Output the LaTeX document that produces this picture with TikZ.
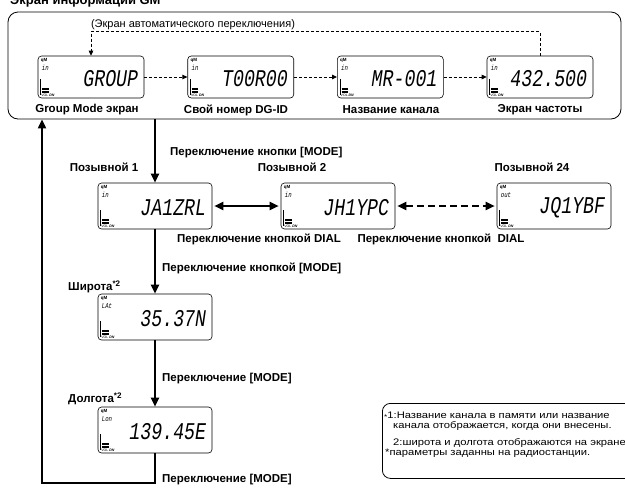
\documentclass[tikz,border=0pt]{standalone}
\usepackage{fontspec}
\setmainfont{Liberation Sans}
\newfontfamily\lcdfont{Liberation Mono}[FakeStretch=0.76]
\newfontfamily\widefont{Liberation Sans}[FakeStretch=1.18]
\usetikzlibrary{calc,arrows.meta}
\newcommand\lcdinner[3]{%
  \node[anchor=west, inner sep=0pt, font=\bfseries\fontsize{4.5}{4.5}\selectfont] (#1-ic) at ($(#1.north west)+(3,5)$) {qM};
  \node[anchor=west, inner sep=0pt, font=\lcdfont\itshape\fontsize{7.5}{7.5}\selectfont] (#1-md) at ($(#1.north west)+(4,12.5)$) {#2};
  \draw[line width=0.5pt] ($(#1.south west)+(3,-19)$) -- ($(#1.south west)+(3,-3)$);
  \draw[line width=1.5pt] ($(#1.south west)+(4.5,-9.5)$) -- ++(6.5,0);
  \draw[line width=1.5pt] ($(#1.south west)+(4.5,-6.5)$) -- ++(6.5,0);
  \node[anchor=south west, inner sep=0pt, font=\fontsize{3.5}{3.5}\selectfont] (#1-vol) at ($(#1.south west)+(3.5,-1.2)$) {VOL \textbf{\textit{DN}}};
  \node[anchor=east, inner sep=0pt, font=\lcdfont\itshape\fontsize{24}{24}\selectfont] (#1-txt) at ($(#1.east)+(-6,1.5)$) {#3};
}
\begin{document}
\begin{tikzpicture}[x=1pt,y=-1pt,
  lcd/.style={draw, line width=0.6pt, rounded corners=3.5pt, minimum width=106pt, minimum height=42pt, inner sep=0pt},
  lcdl/.style={lcd, minimum width=114pt, minimum height=46pt},
  lab/.style={font=\bfseries\fontsize{11.5}{13}\selectfont, inner sep=0pt},
  small/.style={font=\fontsize{11}{12}\selectfont, inner sep=0pt},
  notef/.style={font=\widefont\fontsize{9.5}{11}\selectfont, inner sep=0pt},
  dashline/.style={line width=0.9pt, dash pattern=on 3pt off 2pt},
  thintip/.style={-{Triangle[length=5pt,width=4.5pt]}},
  heavy/.style={line width=2pt},
  bigtip/.style={-{Triangle[length=9pt,width=8pt]}},
  bothtip/.style={{Triangle[length=9pt,width=8pt]}-{Triangle[length=9pt,width=8pt]}},
]
\useasboundingbox (0,0) rectangle (625,488);

\node[anchor=base west, inner sep=0pt, font=\bfseries\fontsize{13}{13}\selectfont] (title) at (10,4) {Экран информации GM};

\node[draw, line width=0.8pt, rounded corners=10pt, minimum width=613pt, minimum height=107pt, inner sep=0pt] (outer) at (314.5,65.5) {};

% top row screens
\node[lcd] (s1) at (91,77) {};
\node[lcd] (s2) at (240.7,77) {};
\node[lcd] (s3) at (390.3,77) {};
\node[lcd] (s4) at (540,77) {};
\lcdinner{s1}{in}{GROUP}
\lcdinner{s2}{in}{T00R00}
\lcdinner{s3}{in}{MR-001}
\lcdinner{s4}{in}{432.500}

\node[lab] (l1) at (87,110) {Group Mode экран};
\node[lab] (l2) at (236,110) {Свой номер DG-ID};
\node[lab] (l3) at (391,110) {Название канала};
\node[lab] (l4) at (540,110) {Экран частоты};

\draw[dashline, thintip] (s1.east) -- (s2.west);
\draw[dashline, thintip] (s2.east) -- (s3.west);
\draw[dashline, thintip] (s3.east) -- (s4.west);
\draw[dashline, thintip] (s4.north) -- ++(0,-24) -| (s1.north);
\node[small] (auto) at (193,25) {(Экран автоматического переключения)};

% middle row
\node[lcdl] (j1) at (155,206) {};
\node[lcdl] (j2) at (338,206) {};
\node[lcdl] (j3) at (554,206) {};
\lcdinner{j1}{in}{JA1ZRL}
\lcdinner{j2}{in}{JH1YPC}
\lcdinner{j3}{out}{JQ1YBF}

\node[lab] (p1) at (104,167) {Позывной 1};
\node[lab] (p2) at (292,167) {Позывной 2};
\node[lab] (p3) at (532,167) {Позывной 24};

\draw[heavy, bigtip] (outer.south -| j1) -- (j1.north);
\node[lab, anchor=west] (m1) at (170,153) {Переключение кнопки [MODE]};

\draw[heavy, bothtip] ([xshift=2pt]j1.east) -- ([xshift=-2pt]j2.west);
\draw[heavy, bothtip, dash pattern=on 7pt off 4pt] ([xshift=2pt]j2.east) -- ([xshift=-2pt]j3.west);
\node[lab] (d1) at (259,239) {Переключение кнопкой DIAL};
\node[lab] (d2) at (441,239) {Переключение кнопкой\ \ DIAL};

% lat / lon
\node[lcdl] (la) at (155,317) {};
\node[lcdl] (lo) at (155,430) {};
\lcdinner{la}{LAt}{35.37N}
\lcdinner{lo}{Lon}{139.45E}

\node[lab, anchor=west] (w1) at (68,287) {Широта\textsuperscript{*2}};
\node[lab, anchor=west] (w2) at (68,399) {Долгота\textsuperscript{*2}};

\draw[heavy, bigtip] (j1.south) -- (la.north);
\node[lab, anchor=west] (m2) at (162,268) {Переключение кнопкой [MODE]};
\draw[heavy, bigtip] (la.south) -- (lo.north);
\node[lab, anchor=west] (m3) at (162,379) {Переключение [MODE]};

\coordinate (ret) at (42,483);
\draw[heavy, bigtip] (lo.south) |- (ret) -- (ret |- outer.south);
\node[lab, anchor=west] (m4) at (162,480) {Переключение [MODE]};

% note box
\node[draw, line width=0.8pt, rounded corners=8pt, minimum width=260pt, minimum height=75pt, anchor=north west, inner sep=0pt] (note) at (382,403) {};
\node[notef, anchor=base west] (n1) at (384,418) {\raisebox{-1.5pt}{\fontsize{7}{7}\selectfont*}1:Название канала в памяти или название};
\node[notef, anchor=base west] (n2) at (393,428) {канала отображается, когда они внесены.};
\node[notef, anchor=base west] (n3) at (393,445) {2:широта и долгота отображаются на экране, если};
\node[notef, anchor=base west] (n4) at (385,455) {*параметры заданны на радиостанции.};
\end{tikzpicture}
\end{document}
